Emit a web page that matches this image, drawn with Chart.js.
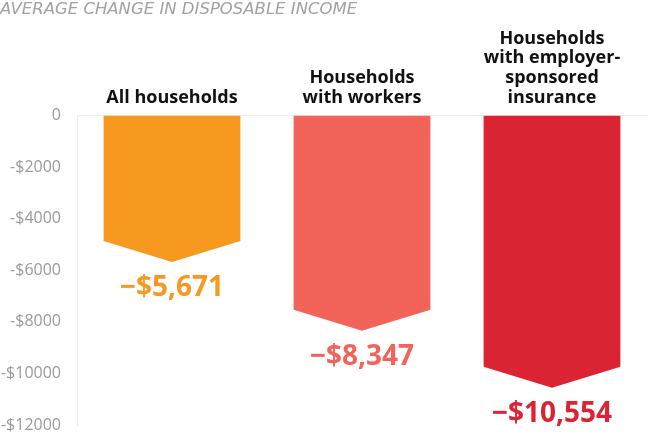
<!DOCTYPE html>
<html lang="en">
<head>
  <meta charset="UTF-8">
  <title>Average change in disposable income</title>
  <script src="https://cdn.jsdelivr.net/npm/chart.js@4.4.0/dist/chart.umd.min.js"></script>
  <style>
    html, body { margin: 0; padding: 0; background: #fff; }
    #wrap { width: 650px; height: 434px; }
  </style>
</head>
<body>
  <div id="wrap"><canvas id="chart"></canvas></div>
  <script>
    // data
    var categories = [
      ["All households"],
      ["Households", "with workers"],
      ["Households", "with employer-", "sponsored", "insurance"]
    ];
    var values = [-5671, -8347, -10554];
    var valueLabels = ["\u2212$5,671", "\u2212$8,347", "\u2212$10,554"];
    var barColors = ["#f7981f", "#f26459", "#da2433"];
    var yMin = -12000, yMax = 0, yStep = 2000;

    var NOTCH = 21; // height of the arrow point

    // draw bars as downward arrows instead of plain rectangles
    var arrowBars = {
      id: 'arrowBars',
      beforeDatasetDraw: function (chart, args) {
        var ctx = chart.ctx;
        var meta = args.meta;
        var ds = chart.data.datasets[args.index];
        meta.data.forEach(function (bar, i) {
          var p = bar.getProps(['x', 'y', 'base', 'width'], true);
          var l = p.x - p.width / 2, r = p.x + p.width / 2;
          ctx.save();
          ctx.fillStyle = ds.backgroundColor[i];
          ctx.beginPath();
          ctx.moveTo(l, p.base);
          ctx.lineTo(r, p.base);
          ctx.lineTo(r, p.y - NOTCH);
          ctx.lineTo(p.x, p.y);
          ctx.lineTo(l, p.y - NOTCH);
          ctx.closePath();
          ctx.fill();
          // value label under the point
          ctx.font = 'bold 28px "Open Sans", sans-serif';
          ctx.textAlign = 'center';
          ctx.textBaseline = 'middle';
          ctx.fillText(valueLabels[i], p.x, p.y + 26);
          ctx.restore();
        });
        return false;
      }
    };

    new Chart(document.getElementById('chart'), {
      type: 'bar',
      data: {
        labels: categories,
        datasets: [{
          data: values,
          backgroundColor: barColors,
          barPercentage: 0.72,
          categoryPercentage: 1
        }]
      },
      options: {
        responsive: true,
        maintainAspectRatio: false,
        animation: false,
        layout: { padding: { left: 0, right: 3, top: 0, bottom: 0 } },
        plugins: {
          legend: { display: false },
          tooltip: { enabled: false },
          title: {
            display: true,
            text: 'AVERAGE CHANGE IN DISPOSABLE INCOME',
            align: 'start',
            color: '#a2a2a2',
            font: { family: '"DejaVu Sans"', size: 16.5, style: 'italic', weight: 'normal' },
            padding: { top: 0, bottom: 0 }
          }
        },
        scales: {
          x: {
            position: 'top',
            grid: { display: false, drawTicks: false },
            border: { display: true, color: '#ececec' },
            ticks: {
              color: '#111',
              padding: 8,
              maxRotation: 0,
              font: { family: '"Open Sans"', size: 18, weight: 'bold', lineHeight: 1.1 }
            },
            afterFit: function (scale) { scale.height = 96; }
          },
          y: {
            min: yMin,
            max: yMax,
            grid: { display: false },
            border: { display: true, color: '#ececec' },
            ticks: {
              stepSize: yStep,
              color: '#9a9a9a',
              padding: 8,
              font: { family: '"Open Sans"', size: 16 },
              callback: function (v) { return v === 0 ? '0' : '-$' + Math.abs(v); }
            },
            afterFit: function (scale) {
              scale.width = 77;
              scale.paddingBottom = 9;
              scale.paddingTop = 0;
            }
          }
        }
      },
      plugins: [arrowBars]
    });
  </script>
</body>
</html>
